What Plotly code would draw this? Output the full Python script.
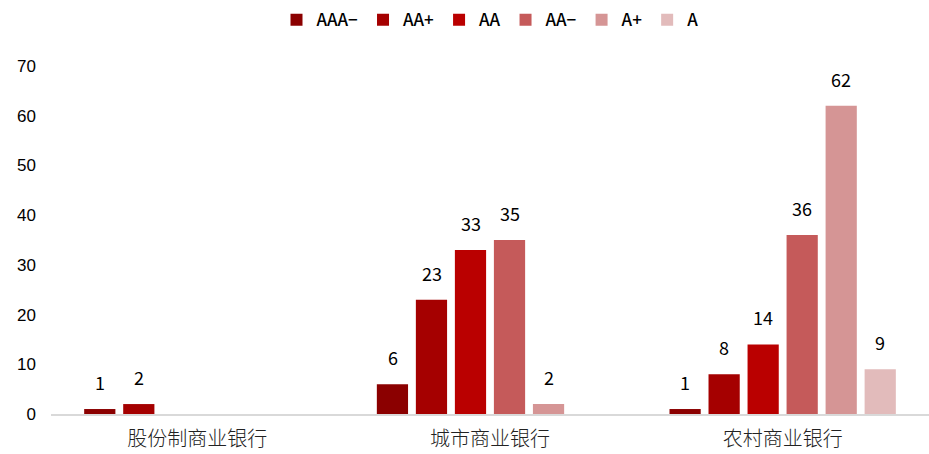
import plotly.graph_objects as go

categories = ["股份制商业银行", "城市商业银行", "农村商业银行"]
series_names = ["AAA−", "AA+", "AA", "AA−", "A+", "A"]
values = {
    "AAA−": [1, 6, 1],
    "AA+": [2, 23, 8],
    "AA": [0, 33, 14],
    "AA−": [0, 35, 36],
    "A+": [0, 2, 62],
    "A": [0, 0, 9],
}
colors = ["#8B0000", "#A50000", "#BA0000", "#C55A5A", "#D59595", "#E2BBBB"]
y_ticks = [0, 10, 20, 30, 40, 50, 60, 70]

num_font = "Noto Sans CJK SC"

fig = go.Figure()
for name, col in zip(series_names, colors):
    vals = values[name]
    fig.add_trace(go.Bar(
        name=name,
        x=categories,
        y=vals,
        marker=dict(color=col, line=dict(width=0)),
        textposition="none",
    ))

# data labels placed above bars
n = len(series_names)
for j, name in enumerate(series_names):
    for i, cat in enumerate(categories):
        v = values[name][i]
        if not v:
            continue
        fig.add_annotation(
            x=i, y=v, xref="x", yref="y",
            text=str(v), showarrow=False,
            yanchor="bottom", yshift=12,
            xshift=(j - (n - 1) / 2) * 39,
            font=dict(family=num_font, size=18, color="#000000"),
        )

fig.update_layout(
    width=929, height=454,
    barmode="group", bargap=0.2, bargroupgap=0.2,
    plot_bgcolor="white", paper_bgcolor="white",
    margin=dict(l=51, r=0, t=66, b=40),
    legend=dict(
        orientation="h", x=0.5, xanchor="center", y=0.995, yanchor="top",
        yref="container",
        font=dict(family=num_font, size=17, color="#000000", weight=500),
        itemwidth=30, traceorder="normal",
    ),
    showlegend=True,
)
fig.update_xaxes(
    showline=True, linecolor="#D9D9D9", linewidth=1.5,
    tickfont=dict(family="Noto Sans CJK SC", size=20, color="#222222", weight=300),
    ticks="", showgrid=False, ticklabelstandoff=6,
)
fig.update_yaxes(
    range=[0, 70], tickvals=y_ticks, showgrid=False, zeroline=False,
    showline=False, ticks="",
    tickfont=dict(family="Liberation Sans", size=17, color="#000000"),
    ticklabelstandoff=14,
)
fig.write_html("out.html")
